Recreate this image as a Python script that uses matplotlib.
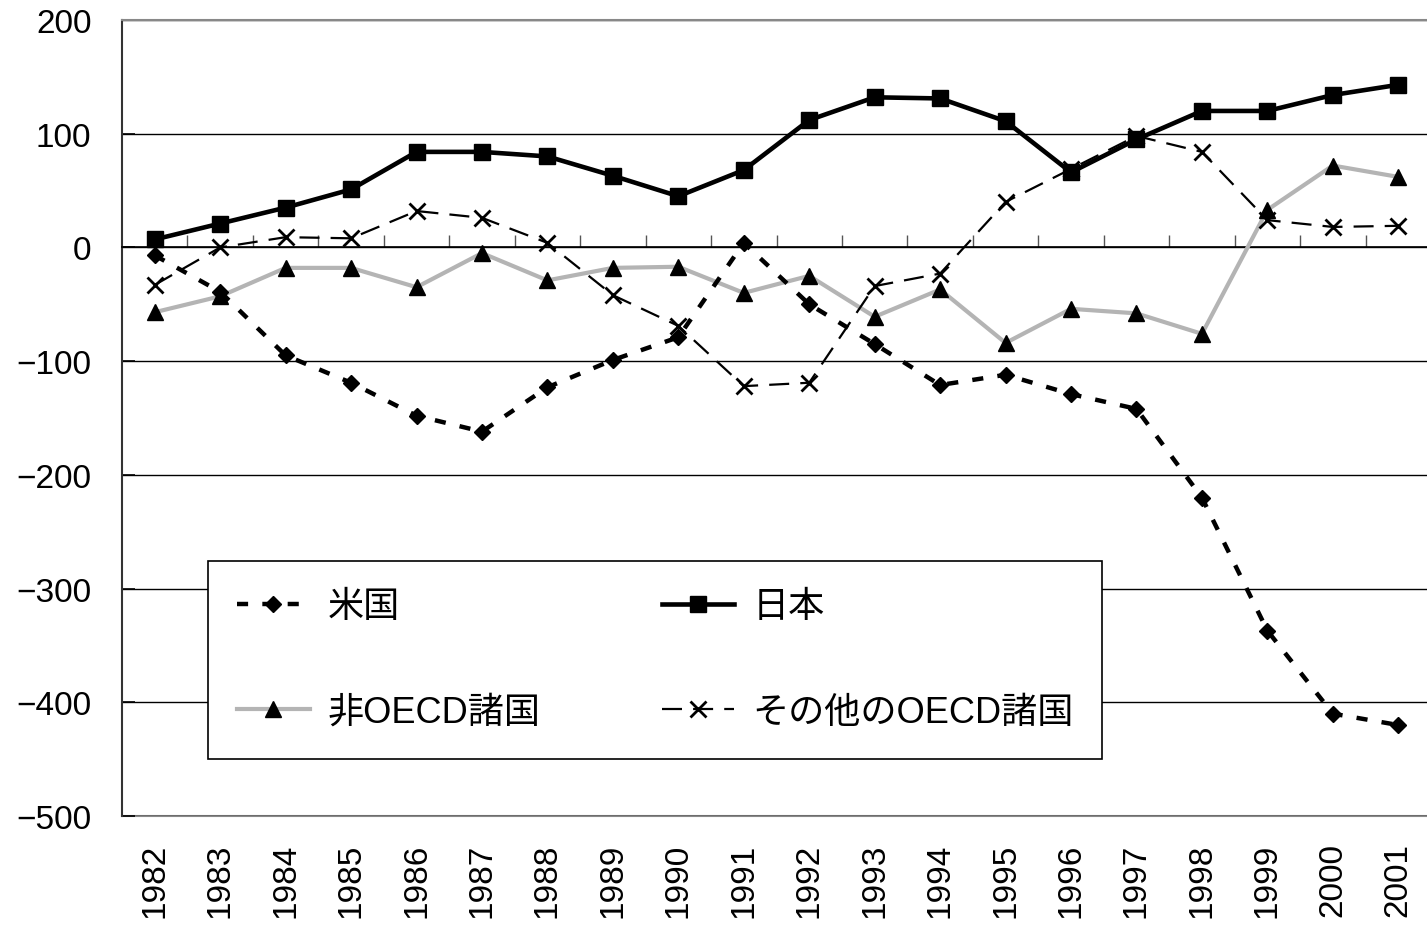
import matplotlib
matplotlib.use("Agg")
import matplotlib.pyplot as plt

plt.rcParams['font.family'] = ['Liberation Sans', 'Noto Sans CJK JP']

years = [str(y) for y in range(1982, 2002)]

# values
usa = [-7, -39, -95, -119, -148, -162, -123, -99, -79, 4,
       -50, -85, -121, -112, -129, -142, -220, -337, -410, -420]
japan = [7, 21, 35, 51, 84, 84, 80, 63, 45, 68,
         112, 132, 131, 111, 66, 95, 120, 120, 134, 143]
non_oecd = [-57, -43, -18, -18, -35, -5, -29, -18, -17, -40,
            -25, -61, -37, -84, -54, -58, -76, 33, 72, 62]
other_oecd = [-33, 0, 9, 8, 32, 26, 4, -42, -69, -122,
              -119, -34, -23, 40, 69, 98, 84, 24, 18, 19]

labels = ['米国', '日本', '非OECD諸国', 'その他のOECD諸国']
yticks = [200, 100, 0, -100, -200, -300, -400, -500]

fig = plt.figure(figsize=(14.27, 9.28), dpi=100)
ax = fig.add_axes([0.0855, 0.1196, 0.9173, 0.8578])

x = list(range(len(years)))

h_non, = ax.plot(x, non_oecd, color='#b4b4b4', lw=3, marker='^', ms=11,
                 mfc='black', mec='black', label=labels[2], zorder=3)
h_oth, = ax.plot(x, other_oecd, color='black', lw=1.6, dashes=(9, 5),
                 marker='x', ms=11, mew=2, label=labels[3], zorder=4)
h_us, = ax.plot(x, usa, color='black', lw=3.2, dashes=(2.5, 3.2),
                marker='D', ms=8, label=labels[0], zorder=5)
h_jp, = ax.plot(x, japan, color='black', lw=3.3, marker='s', ms=11,
                label=labels[1], zorder=6)

ax.set_xlim(-0.5, len(years) - 0.5)
ax.set_ylim(-500, 200)

# y axis
ax.set_yticks(yticks)
ax.tick_params(axis='y', direction='in', length=9, width=1.2,
               labelsize=24, pad=22)
ax.yaxis.grid(True, color='black', lw=1)
ax.set_axisbelow(True)

# category axis sits on the zero line, ticks at category boundaries
ax.spines['bottom'].set_position(('data', 0))
ax.spines['bottom'].set_color('black')
ax.spines['bottom'].set_linewidth(1.2)
ax.set_xticks([i + 0.5 for i in range(len(years) - 1)])
ax.tick_params(axis='x', direction='in', length=9, width=1,
               color='#555555', labelbottom=False)

ax.spines['left'].set_color('#333333')
ax.spines['left'].set_linewidth(1.5)
ax.spines['top'].set_color('#888888')
ax.spines['top'].set_linewidth(1.5)
ax.spines['right'].set_visible(False)

# year labels along the bottom border
sec = ax.secondary_xaxis('bottom')
sec.set_xticks(x)
sec.set_xticklabels(years, rotation=90)
sec.tick_params(length=0, labelsize=24, pad=19)
sec.spines['bottom'].set_color('#888888')
sec.spines['bottom'].set_linewidth(1.5)

leg = ax.legend(handles=[h_us, h_non, h_jp, h_oth], ncol=2,
                loc='lower left', bbox_to_anchor=(0.066, 0.072, 0.683, 0.245),
                mode='expand', fontsize=26, frameon=True, fancybox=False,
                edgecolor='black', framealpha=1, handlelength=2.0,
                handletextpad=0.5, labelspacing=1.95, borderpad=0.8,
                borderaxespad=0)
leg.get_frame().set_linewidth(1.2)
leg.set_zorder(10)

fig.savefig('out.png', dpi=100)
